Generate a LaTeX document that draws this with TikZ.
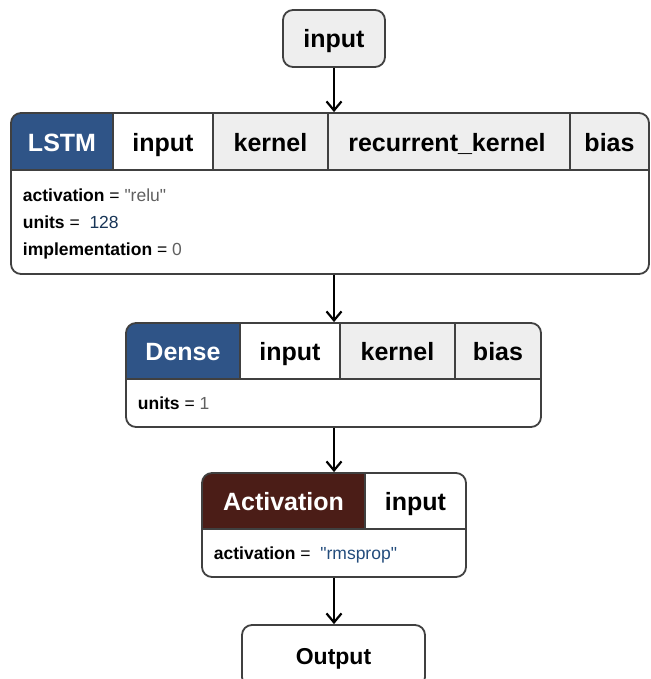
\documentclass[tikz,border=0pt]{standalone}
\usepackage{fontspec}
\setmainfont{Liberation Sans}[Ligatures=TeXOff]
\usetikzlibrary{arrows.meta}
\definecolor{layerblue}{HTML}{2F5487}
\definecolor{layerred}{HTML}{4B1D17}
\definecolor{cellgray}{HTML}{EEEEEE}
\definecolor{edge}{HTML}{404040}
\definecolor{valgray}{HTML}{606060}
\definecolor{valblue}{HTML}{234C7C}
\tikzset{
  frame/.style={draw=edge,rounded corners=10pt,inner sep=0pt},
  cell/.style={anchor=base,inner sep=0pt,font=\bfseries\fontsize{25}{29}\selectfont},
  prop/.style={anchor=base west,inner sep=0pt,font=\fontsize{17.5}{20}\selectfont},
  flow/.style={->,draw=black,line width=2.2pt},
}
\begin{document}
\begin{tikzpicture}[x=1pt,y=-1pt,line width=1.8pt,>={Straight Barb[length=9pt,width=15pt]}]
\useasboundingbox (0,0) rectangle (650,679);
\clip (0,0) rectangle (650,679);

% model input
\node[frame,fill=cellgray,minimum width=102,minimum height=57,
  text height=17.5pt,text depth=0pt,font=\bfseries\fontsize{25}{29}\selectfont]
  (in) at (334,38.5) {input};

% LSTM layer
\begin{scope}
\clip[rounded corners=10pt] (11,113) rectangle (649,274);
\fill[layerblue] (11,113) rectangle (113,170);
\fill[cellgray] (213,113) rectangle (649,170);
\end{scope}
\node[frame,minimum width=638,minimum height=161] (lstm) at (330,193.5) {};
\draw[edge]
  (11,170) -- (649,170)
  (113,113) -- (113,170)
  (213,113) -- (213,170)
  (328,113) -- (328,170)
  (570,113) -- (570,170);
\node[cell,text=white] (lstmname) at (62,152) {LSTM};
\node[cell] (lstmin) at (163,152) {input};
\node[cell] (lstmk) at (270.5,152) {kernel};
\node[cell] (lstmrk) at (447,152) {recurrent\_kernel};
\node[cell] (lstmb) at (609.5,152) {bias};
\node[prop] (lstmact) at (22,201) {\textbf{activation} = \textcolor{valgray}{"relu"}};
\node[prop] (lstmunits) at (22,228) {\textbf{units} = \ \textcolor{valblue!70!black}{128}};
\node[prop] (lstmimpl) at (22,255) {\textbf{implementation} = \textcolor{valgray}{0}};

% Dense layer
\begin{scope}
\clip[rounded corners=10pt] (126,323) rectangle (541,427);
\fill[layerblue] (126,323) rectangle (240,379);
\fill[cellgray] (340,323) rectangle (541,379);
\end{scope}
\node[frame,minimum width=415,minimum height=104] (dense) at (333.5,375) {};
\draw[edge]
  (126,379) -- (541,379)
  (240,323) -- (240,379)
  (340,323) -- (340,379)
  (455,323) -- (455,379);
\node[cell,text=white] (densename) at (183,360.5) {Dense};
\node[cell] (densein) at (290,360.5) {input};
\node[cell] (densek) at (397.5,360.5) {kernel};
\node[cell] (denseb) at (498,360.5) {bias};
\node[prop] (denseunits) at (137,409) {\textbf{units} = \textcolor{valgray}{1}};

% Activation layer
\begin{scope}
\clip[rounded corners=10pt] (202,473) rectangle (466,577);
\fill[layerred] (202,473) rectangle (365,529);
\end{scope}
\node[frame,minimum width=264,minimum height=104] (act) at (334,525) {};
\draw[edge]
  (202,529) -- (466,529)
  (365,473) -- (365,529);
\node[cell,text=white] (actname) at (283.5,510.5) {Activation};
\node[cell] (actin) at (415.5,510.5) {input};
\node[prop] (actfn) at (213,559) {\textbf{activation} = \ \textcolor{valblue}{"rmsprop"}};

% model output
\node[frame,fill=white,minimum width=183,minimum height=62,
  text height=16.5pt,text depth=0pt,font=\bfseries\fontsize{23}{27}\selectfont]
  (out) at (333.5,656) {Output};

% connections
\draw[flow] (in.south) -- (in.south |- lstm.north);
\draw[flow] (lstm.south -| in.south) -- (dense.north -| in.south);
\draw[flow] (dense.south -| in.south) -- (act.north -| in.south);
\draw[flow] (act.south -| in.south) -- (out.north -| in.south);
\end{tikzpicture}
\end{document}
